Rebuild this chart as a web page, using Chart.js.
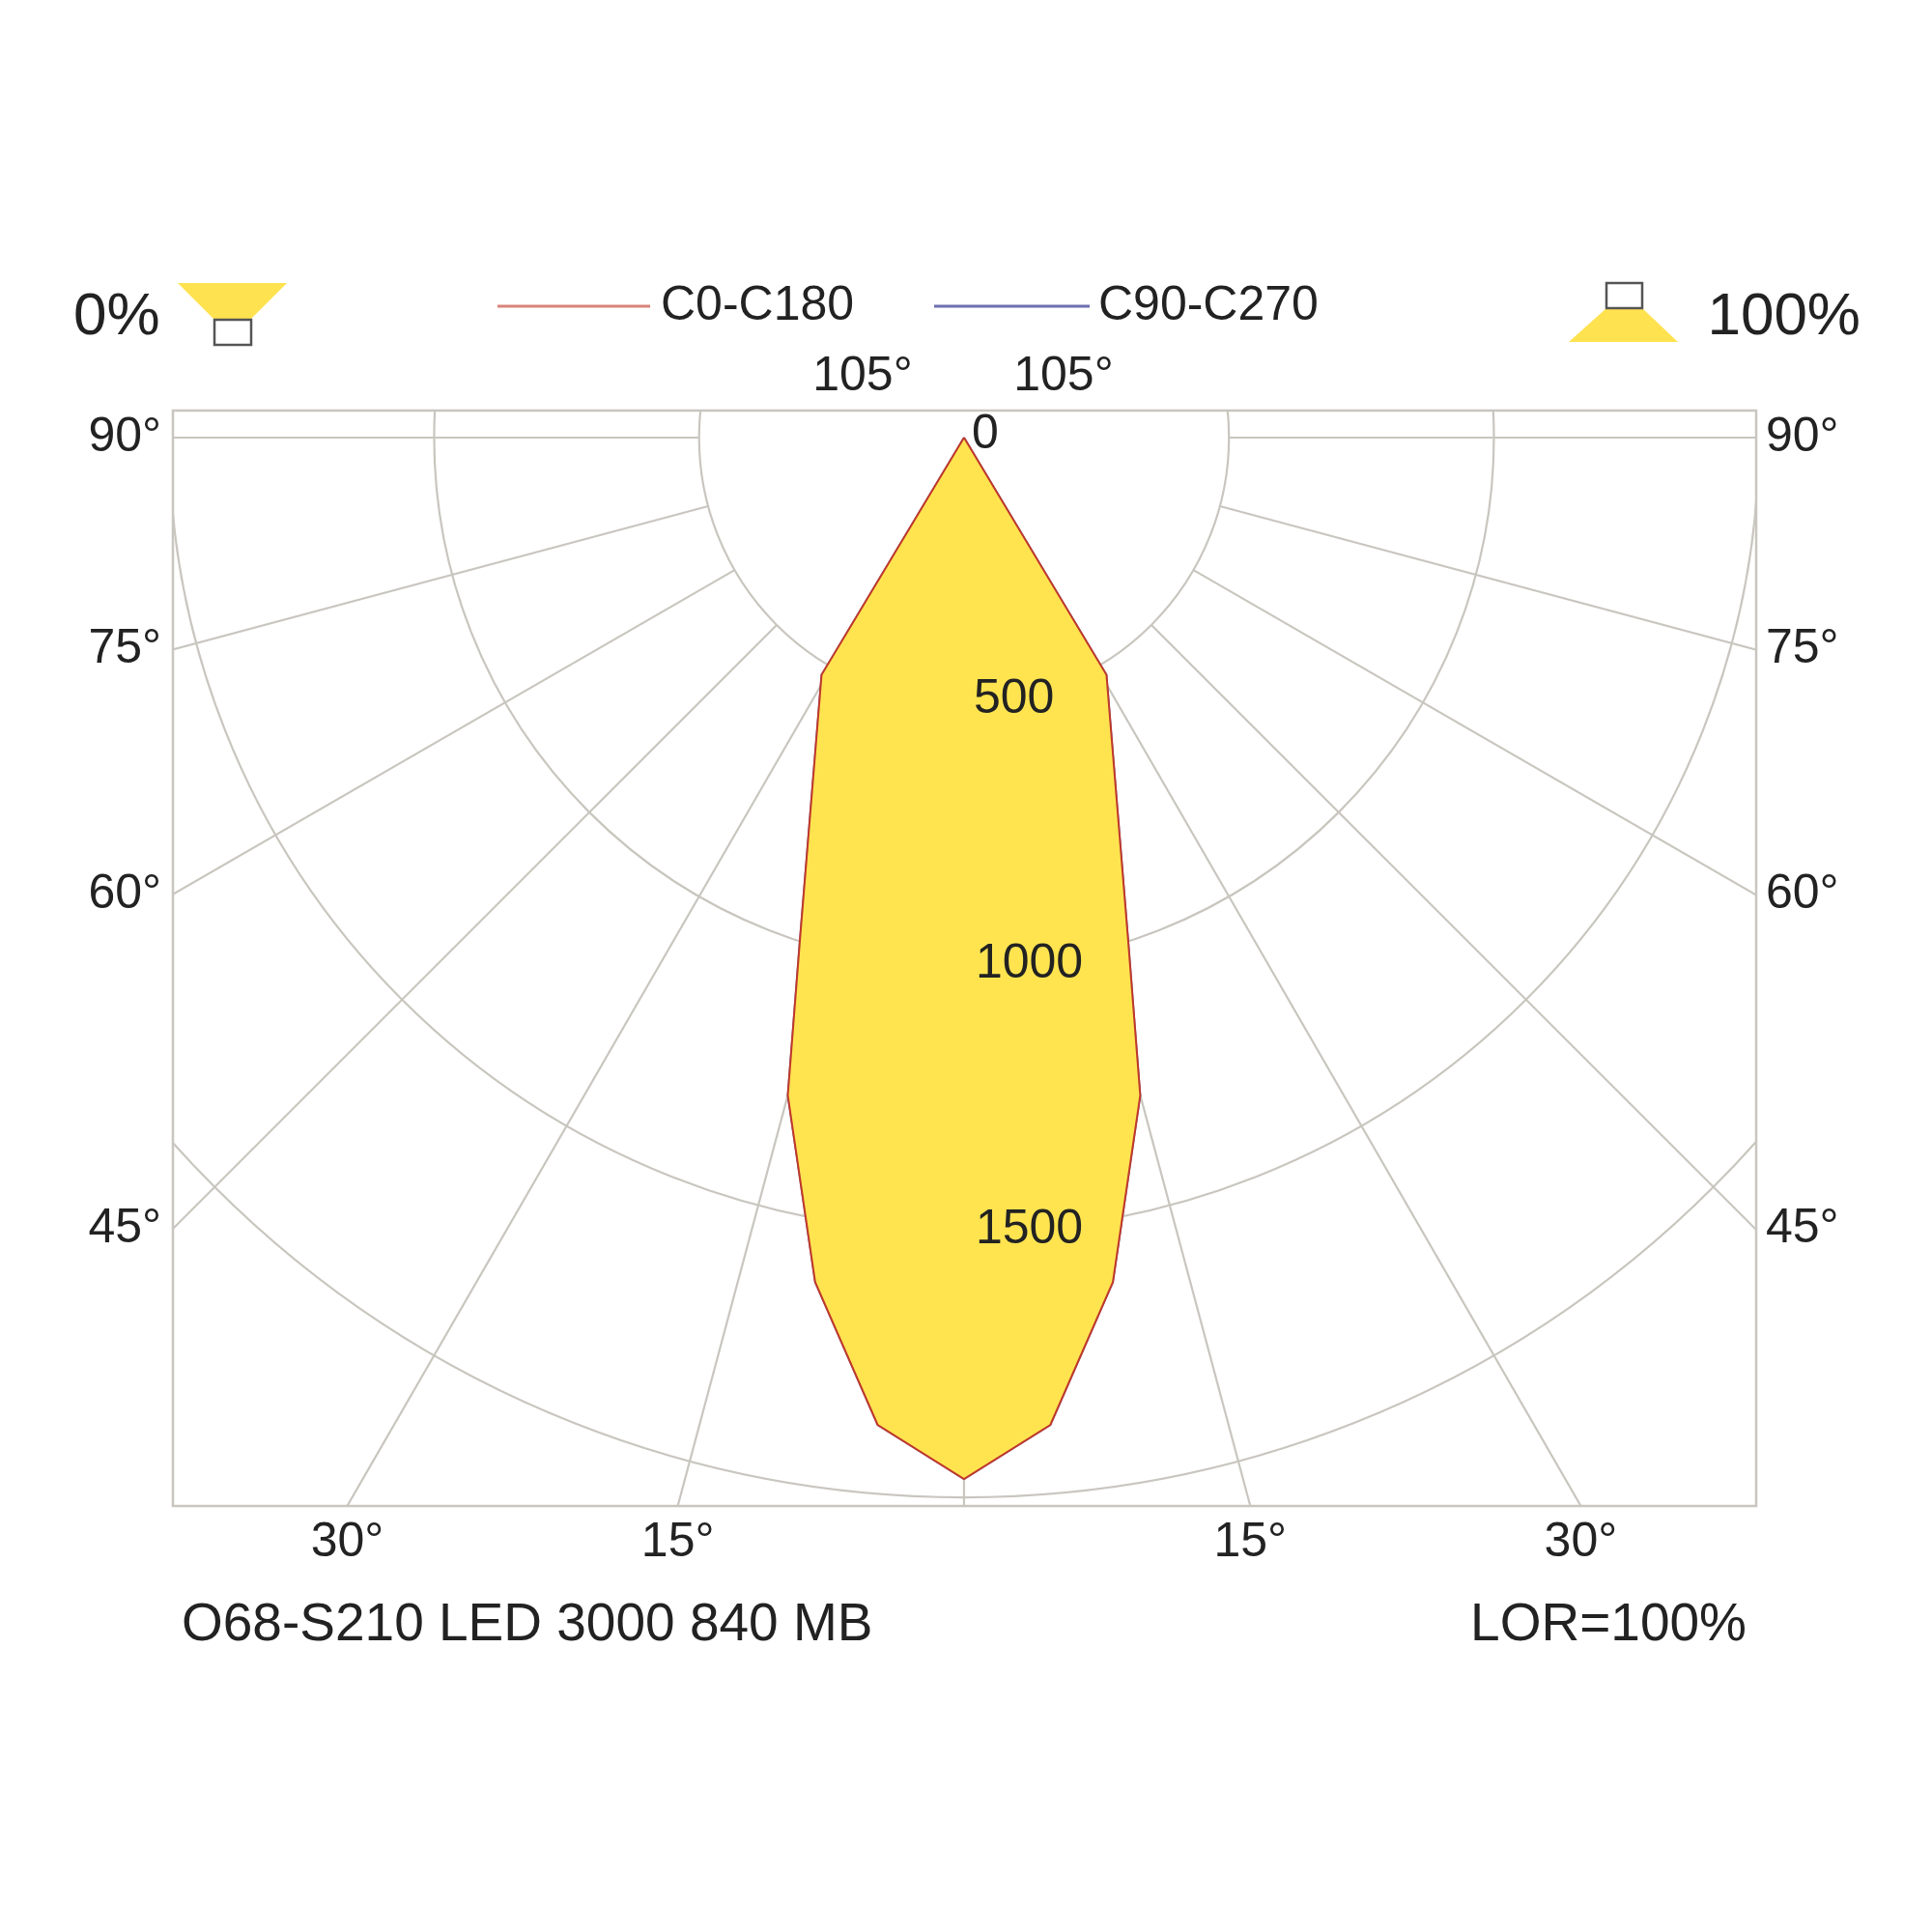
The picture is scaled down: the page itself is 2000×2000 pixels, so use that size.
<!DOCTYPE html>
<html><head><meta charset="utf-8">
<script src="https://cdn.jsdelivr.net/npm/chart.js@4"></script>
<style>html,body{margin:0;padding:0;background:#fff}#w{width:2000px;height:2000px}</style>
</head><body><div id="w"><canvas id="c" width="2000" height="2000"></canvas></div>
<script>
const gammaDeg = [0, 5, 10, 15, 18, 31, 90];
const c0c180 = [1965, 1870, 1618, 1285, 1004, 522, 0];
const c90c270 = [1965, 1870, 1618, 1285, 1004, 522, 0];
const ringValues = [500, 1000, 1500, 2000];
const ringLabels = ['500', '1000', '1500'];
const spokeAngles = [0, 15, 30, 45, 60, 75, 90, 105];
const sideLabels = ['90°', '75°', '60°', '45°'];
const bottomLabels = ['30°', '15°'];
const title = 'O68-S210 LED 3000 840 MB';
const lorText = 'LOR=100%';

function curve(vals){
  const pts=[];
  for(let i=gammaDeg.length-1;i>=0;i--){const g=gammaDeg[i]*Math.PI/180;pts.push({x:-vals[i]*Math.sin(g),y:-vals[i]*Math.cos(g)});}
  for(let i=1;i<gammaDeg.length;i++){const g=gammaDeg[i]*Math.PI/180;pts.push({x:vals[i]*Math.sin(g),y:-vals[i]*Math.cos(g)});}
  return pts;
}
const FONT='"Liberation Sans", Arial, sans-serif';
const TXT='#222';
const S=0.99;
const gridPlugin={id:'grid',
 beforeDatasetsDraw(ch){
  const {ctx,chartArea:a,scales:{x,y}}=ch;
  const cx=x.getPixelForValue(0),cy=y.getPixelForValue(0),k=x.getPixelForValue(1000)-cx;
  ctx.save();
  ctx.beginPath();ctx.rect(a.left,a.top,a.right-a.left,a.bottom-a.top);ctx.clip();
  ctx.strokeStyle='#c9c6bf';ctx.lineWidth=2.2;
  ringValues.forEach(r=>{ctx.beginPath();ctx.arc(cx,cy,r*k/1000,0,Math.PI*2);ctx.stroke();});
  const R0=500*k/1000,R1=4000*k/1000;
  spokeAngles.forEach(d=>{const g=d*Math.PI/180;[1,-1].forEach(s=>{
    if(d===0&&s<0)return;
    ctx.beginPath();ctx.moveTo(cx+s*R0*Math.sin(g),cy+R0*Math.cos(g));ctx.lineTo(cx+s*R1*Math.sin(g),cy+R1*Math.cos(g));ctx.stroke();});});
  ctx.restore();
  ctx.save();ctx.strokeStyle='#c9c6bf';ctx.lineWidth=2.5;ctx.strokeRect(a.left,a.top,a.right-a.left,a.bottom-a.top);ctx.restore();
 },
 afterDatasetsDraw(ch){
  const {ctx,chartArea:a,scales:{x,y}}=ch;
  const cx=x.getPixelForValue(0),cy=y.getPixelForValue(0);
  ctx.save();ctx.fillStyle=TXT;ctx.font='50px '+FONT;ctx.textBaseline='middle';
  ctx.textAlign='left';
  ctx.fillText('0',cx+8,cy-3);
  ringLabels.forEach((t,i)=>{ctx.fillText(t,cx+(i?12:10),y.getPixelForValue(-(i+1)*500)-3);});
  const xm=x.min;
  [90,75,60,45].forEach((d,i)=>{const g=d*Math.PI/180;const yv=xm*Math.cos(g)/Math.sin(g);const py=y.getPixelForValue(yv);
    ctx.textAlign='right';ctx.fillText(sideLabels[i],a.left-12,py);
    ctx.textAlign='left';ctx.fillText(sideLabels[i],a.right+10,py);});
  [30,15].forEach((d,i)=>{const g=d*Math.PI/180;const xv=-y.min*Math.tan(g);ctx.textAlign='center';
    ctx.fillText(bottomLabels[i],x.getPixelForValue(-xv),a.bottom+38);ctx.fillText(bottomLabels[i],x.getPixelForValue(xv),a.bottom+38);});
  ctx.textAlign='center';ctx.fillText('105°',cx-105,a.top-35);ctx.fillText('105°',cx+103,a.top-35);
  ctx.font='55px '+FONT;
  ctx.textAlign='left';ctx.fillText(title,188,1683);
  ctx.textAlign='right';ctx.fillText(lorText,1808,1683);
  ctx.font='50px '+FONT;
  ctx.textAlign='left';ctx.fillText('C0-C180',684,317);ctx.fillText('C90-C270',1137,317);
  ctx.lineWidth=3;ctx.strokeStyle='#d9837a';ctx.beginPath();ctx.moveTo(515,317);ctx.lineTo(673,317);ctx.stroke();
  ctx.strokeStyle='#6f6fb0';ctx.beginPath();ctx.moveTo(967,317);ctx.lineTo(1128,317);ctx.stroke();
  ctx.font='62px '+FONT;
  ctx.fillText('0%',76,329);
  ctx.textAlign='right';ctx.fillText('100%',1926,329);
  ctx.fillStyle='#ffe24f';ctx.strokeStyle='#555';ctx.lineWidth=2.5;
  ctx.beginPath();ctx.moveTo(184,293);ctx.lineTo(297,293);ctx.lineTo(259,331);ctx.lineTo(222,331);ctx.closePath();ctx.fill();
  ctx.fillStyle='#fff';ctx.fillRect(222,331,38,26);ctx.strokeRect(222,331,38,26);
  ctx.fillStyle='#ffe24f';
  ctx.beginPath();ctx.moveTo(1624,354);ctx.lineTo(1737,354);ctx.lineTo(1700,319);ctx.lineTo(1663,319);ctx.closePath();ctx.fill();
  ctx.fillStyle='#fff';ctx.fillRect(1663,293,37,26);ctx.strokeRect(1663,293,37,26);
  ctx.restore();
 }};
new Chart(document.getElementById('c'),{
 type:'scatter',
 data:{datasets:[
  {label:'C0-C180',data:curve(c0c180),showLine:true,borderColor:'#c0392b',borderWidth:2,pointRadius:0,backgroundColor:'#ffe450',fill:'shape'},
  {label:'C90-C270',data:curve(c90c270),showLine:true,borderColor:'#6f6fb0',borderWidth:2,pointRadius:0,fill:false}
 ]},
 options:{responsive:false,animation:false,
  layout:{padding:{left:179,right:182,top:425,bottom:441}},
  plugins:{legend:{display:false},tooltip:{enabled:false}},
  scales:{x:{type:'linear',min:-1493,max:1495,display:false},y:{type:'linear',min:-2016,max:51,display:false}}},
 plugins:[gridPlugin]
});
</script></body></html>
